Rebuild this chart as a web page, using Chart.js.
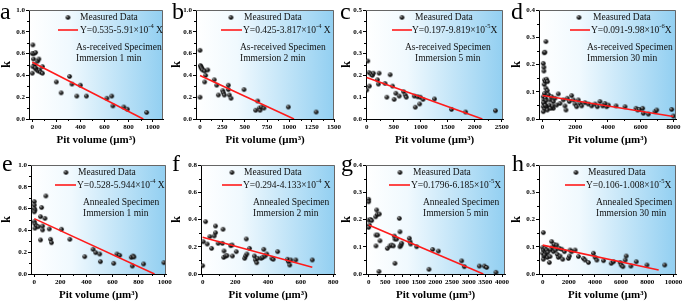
<!DOCTYPE html>
<html>
<head>
<meta charset="utf-8">
<script src="https://cdn.jsdelivr.net/npm/chart.js@4.4.1/dist/chart.umd.min.js"></script>
<style>
  body { margin: 0; background: #fff; width: 685px; height: 303px; overflow: hidden; position: relative; }
  canvas { position: absolute; }
</style>
</head>
<body>
<script>
// ---- data ----
const yTicks10 = [0, 0.2, 0.4, 0.6, 0.8, 1.0];
const yTicks08 = [0, 0.2, 0.4, 0.6, 0.8];
const yTicks05 = [0, 0.1, 0.2, 0.3, 0.4, 0.5];
const yTicks04 = [0, 0.1, 0.2, 0.3, 0.4];

const xTicksA = [0, 200, 400, 600, 800, 1000];
const xTicksB = [0, 250, 500, 750, 1000, 1250, 1500];
const xTicksC = [0, 500, 1000, 1500, 2000, 2500];
const xTicksD = [0, 2000, 4000, 6000, 8000];
const xTicksE = [0, 200, 400, 600, 800, 1000];
const xTicksF = [0, 200, 400, 600, 800];
const xTicksG = [0, 500, 1000, 1500, 2000, 2500, 3000, 3500, 4000];
const xTicksH = [0, 2000, 4000, 6000, 8000, 10000];

// measured data [pit volume, k]
const ptsA = [[5,0.68],[0,0.60],[15,0.60],[28,0.61],[10,0.55],[45,0.53],[55,0.55],[20,0.50],[5,0.48],[30,0.46],[40,0.45],[50,0.44],[60,0.45],[70,0.43],[85,0.42],[0,0.42],[85,0.48],[25,0.47],
  [200,0.34],[240,0.24],[310,0.39],[330,0.32],[370,0.21],[400,0.31],[450,0.21],[620,0.19],[660,0.21],[670,0.12],[760,0.11],[790,0.09],[950,0.06]];
const ptsB = [[0,0.63],[5,0.49],[10,0.48],[15,0.47],[22,0.46],[30,0.45],[0,0.20],[52,0.44],[86,0.45],[63,0.40],[52,0.34],[160,0.36],[187,0.31],[205,0.22],[254,0.26],[261,0.24],[272,0.22],
  [317,0.31],[317,0.27],[328,0.22],[347,0.19],[493,0.27],[623,0.08],[645,0.165],[664,0.10],[672,0.08],[690,0.11],[716,0.10],[989,0.11],[1300,0.064]];
const ptsC = [[20,0.266],[0,0.133],[50,0.151],[43,0.213],[80,0.206],[105,0.20],[124,0.21],[200,0.18],[217,0.16],[230,0.21],[340,0.163],[435,0.203],[373,0.10],[478,0.151],[509,0.09],
  [540,0.118],[602,0.105],[683,0.125],[714,0.11],[733,0.10],[882,0.105],[900,0.054],[944,0.102],[981,0.069],[994,0.10],[1043,0.09],[1255,0.092],[1571,0.044],[1832,0.032],[2385,0.038]];
const ptsD = [[204,0.284],[100,0.243],[140,0.245],[40,0.204],[80,0.19],[80,0.176],[120,0.143],[180,0.138],[245,0.146],[306,0.137],[100,0.127],[204,0.113],[285,0.104],[120,0.094],[40,0.082],
  [347,0.09],[80,0.07],[180,0.076],[100,0.057],[40,0.045],[140,0.037],[245,0.045],[204,0.067],[449,0.07],[551,0.082],[653,0.064],[755,0.076],[653,0.039],[959,0.092],[1061,0.057],
  [857,0.051],[1265,0.07],[1367,0.048],[1429,0.033],[1510,0.076],[1633,0.064],[1776,0.086],[1878,0.07],[1980,0.055],[2082,0.045],[2184,0.07],[2286,0.057],[2388,0.048],[2592,0.06],
  [2796,0.055],[3000,0.048],[3204,0.055],[3347,0.045],[3510,0.064],[3673,0.048],[3816,0.057],[3918,0.045],[4020,0.051],[4490,0.048],[5041,0.045],[5714,0.039],[5816,0.033],[5918,0.035],
  [6122,0.039],[6163,0.021],[6469,0.018],[6878,0.027],[6980,0.033],[7898,0.035],[8000,0.011],[40,0.027],[285,0.033],[408,0.051],[490,0.039],[612,0.048],[60,0.06],[160,0.05]];
const ptsE = [[0,0.664],[0,0.633],[0,0.60],[5,0.587],[0,0.57],[0,0.48],[5,0.46],[18,0.44],[5,0.42],[31,0.434],[48,0.526],[64,0.44],[56,0.61],[89,0.716],[82,0.51],[64,0.404],[48,0.312],
  [115,0.413],[125,0.318],[132,0.287],[209,0.41],[273,0.318],[387,0.159],[451,0.226],[471,0.196],[502,0.183],[507,0.113],[609,0.098],[634,0.183],[655,0.171],[744,0.153],[752,0.073],
  [757,0.165],[764,0.156],[838,0.092],[994,0.104]];
const ptsF = [[0,0.061],[4,0.237],[18,0.384],[28,0.22],[44,0.274],[55,0.188],[71,0.279],[79,0.303],[79,0.352],[95,0.225],[121,0.225],[125,0.328],[131,0.169],[129,0.122],[141,0.132],
  [149,0.135],[172,0.208],[180,0.213],[182,0.132],[206,0.164],[257,0.115],[263,0.132],[267,0.257],[271,0.147],[287,0.188],[317,0.132],[323,0.103],[331,0.083],[337,0.115],[358,0.115],
  [368,0.122],[374,0.181],[382,0.132],[392,0.147],[424,0.115],[432,0.108],[459,0.164],[519,0.108],[525,0.091],[533,0.066],[539,0.103],[570,0.103],[671,0.103]];
const ptsG = [[0,0.274],[0,0.265],[0,0.198],[20,0.18],[0,0.171],[60,0.2],[90,0.196],[210,0.21],[240,0.235],[260,0.219],[320,0.22],[220,0.143],[270,0.143],[220,0.103],[340,0.122],
  [310,0.009],[560,0.094],[640,0.103],[690,0.106],[740,0.103],[770,0.139],[790,0.128],[840,0.128],[790,0.039],[920,0.204],[940,0.155],[940,0.1],[970,0.106],[990,0.113],[1220,0.131],
  [1240,0.119],[1260,0.11],[1440,0.1],[1810,0.017],[1920,0.09],[2090,0.084],[2790,0.048],[2870,0.027],[3320,0.029],[3470,0.029],[3540,0.024],[3820,0.006]];
const ptsH = [[50,0.152],[0,0.097],[50,0.088],[180,0.094],[0,0.076],[100,0.064],[50,0.054],[256,0.076],[307,0.088],[358,0.061],[512,0.042],[563,0.064],[690,0.119],[767,0.1],[818,0.082],
  [895,0.108],[997,0.088],[1074,0.106],[1125,0.072],[1202,0.061],[1279,0.094],[1330,0.066],[1458,0.091],[1535,0.054],[1662,0.082],[1969,0.057],[2046,0.066],[2097,0.088],[2225,0.082],
  [2481,0.088],[2737,0.064],[3120,0.057],[3248,0.051],[3504,0.042],[3887,0.076],[4015,0.061],[4143,0.051],[4655,0.049],[5243,0.039],[5422,0.045],[5934,0.042],[6010,0.033],[6138,0.027],
  [6317,0.051],[6394,0.066],[6752,0.029],[7161,0.045],[7980,0.033],[9335,0.033],[150,0.07],[400,0.08],[600,0.09]];

// fitted lines, end points as drawn
const lineA = [[0, 0.52], [922, 0]];
const lineB = [[0, 0.40], [1052, 0]];
const lineC = [[0, 0.19], [2143, 0]];
const lineD = [[0, 0.086], [8000, 0.009]];
const lineE = [[0, 0.508], [922, 0]];
const lineF = [[0, 0.269], [671, 0.049]];
const lineG = [[0, 0.18], [3440, 0]];
const lineH = [[0, 0.106], [8875, 0.015]];

// equation text: [before superscript, superscript, after]
const eqA = ['Y=0.535-5.91×10', '-4', ' X'];
const eqB = ['Y=0.425-3.817×10', '-4', ' X'];
const eqC = ['Y=0.197-9.819×10', '-5', 'X'];
const eqD = ['Y=0.091-9.98×10', '-6', 'X'];
const eqE = ['Y=0.528-5.944×10', '-4', ' X'];
const eqF = ['Y=0.294-4.133×10', '-4', ' X'];
const eqG = ['Y=0.1796-6.185×10', '-5', 'X'];
const eqH = ['Y=0.106-1.008×10', '-5', 'X'];

const SERIF = '"Liberation Serif", "Times New Roman", serif';
const EXTRA = 12; // canvases reach a bit past their panel so edge tick labels are not clipped

// sphere-looking marker
function makeDot(r) {
  const c = document.createElement('canvas');
  const s = Math.ceil(r * 2) + 2;
  c.width = c.height = s;
  const g = c.getContext('2d');
  const m = s / 2;
  const grad = g.createRadialGradient(m - r * 0.35, m - r * 0.35, 0.2, m, m, r);
  grad.addColorStop(0, '#a0a0a0');
  grad.addColorStop(0.45, '#262626');
  grad.addColorStop(1, '#000');
  g.fillStyle = grad;
  g.beginPath(); g.arc(m, m, r, 0, Math.PI * 2); g.fill();
  return c;
}
const dot = makeDot(2.3);

// layout of each panel (canvas box + plot area offsets)
const panels = [
  { L: 'a', box: [0, 0, 170, 150], yW: 29, top: 10, right: 7, xH: 31, tb: 3, xr: [-27, 1086], xt: xTicksA, yr: [0, 1], yt: yTicks10,
    pts: ptsA, line: lineA, eq: eqA, spec: 'As-received Specimen', imm: 'Immersion 1 min', leg: [39, 51, 29, 49, 51, 47, 47], lp: [0, 19] },
  { L: 'b', box: [170, 0, 170, 150], yW: 26, top: 10, right: 6, xH: 31, tb: 3, xr: [-45, 1500], xt: xTicksB, yr: [0, 1], yt: yTicks10,
    pts: ptsB, line: lineB, eq: eqB, spec: 'As-received Specimen', imm: 'Immersion 2 min', leg: [35, 48, 25, 46, 47, 44, 44], lp: [2, 19] },
  { L: 'c', box: [340, 0, 170, 150], yW: 26, top: 10, right: 7, xH: 31, tb: 3, xr: [-13, 2525], xt: xTicksC, yr: [0, 0.5], yt: yTicks05,
    pts: ptsC, line: lineC, eq: eqC, spec: 'As-received Specimen', imm: 'Immersion 5 min', leg: [36, 49, 26, 46, 46, 39, 49], lp: [0, 19] },
  { L: 'd', box: [510, 0, 175, 150], yW: 29, top: 10, right: 9, xH: 31, tb: 3, xr: [-220, 8160], xt: xTicksD, yr: [0, 0.4], yt: yTicks04,
    pts: ptsD, line: lineD, eq: eqD, spec: 'As-received Specimen', imm: 'Immersion 30 min', leg: [40, 54, 31, 51, 52, 48, 48], lp: [1, 19] },
  { L: 'e', box: [0, 150, 170, 153], yW: 31, top: 15, right: 4, xH: 29, tb: 1, xr: [-25, 1010], xt: xTicksE, yr: [0, 1], yt: yTicks10,
    pts: ptsE, line: lineE, eq: eqE, spec: 'Annealed Specimen', imm: 'Immersion 1 min', leg: [35, 47, 24, 45, 46, 52, 52], lp: [2, 21] },
  { L: 'f', box: [170, 150, 170, 153], yW: 31, top: 15, right: 5, xH: 29, tb: 1, xr: [-10, 810], xt: xTicksF, yr: [0, 0.8], yt: yTicks08,
    pts: ptsF, line: lineF, eq: eqF, spec: 'Annealed Specimen', imm: 'Immersion 2 min', leg: [31, 43, 21, 41, 42, 52, 52], lp: [2, 21] },
  { L: 'g', box: [340, 150, 170, 153], yW: 26, top: 15, right: 5, xH: 29, tb: 1, xr: [-80, 4090], xt: xTicksG, yr: [0, 0.4], yt: yTicks04,
    pts: ptsG, line: lineG, eq: eqG, spec: 'Annealed Specimen', imm: 'Immersion 5 min', leg: [34, 47, 23, 44, 45, 57, 57], lp: [1, 21] },
  { L: 'h', box: [510, 150, 175, 153], yW: 29, top: 15, right: 9, xH: 29, tb: 1, xr: [-280, 10200], xt: xTicksH, yr: [0, 0.4], yt: yTicks04,
    pts: ptsH, line: lineH, eq: eqH, spec: 'Annealed Specimen', imm: 'Immersion 30 min', leg: [37, 49, 26, 46, 47, 57, 57], lp: [2, 21] }
];

// background gradient, frame, minor ticks, in-plot legend and labels
function decor(p) {
  return {
    id: 'decor' + p.L,
    beforeDraw(chart) {
      const { ctx, chartArea: a } = chart;
      const g = ctx.createLinearGradient(a.left, 0, a.right, 0);
      g.addColorStop(0, '#ffffff');
      g.addColorStop(0.3, '#f0f9fe');
      g.addColorStop(1, '#92cff1');
      ctx.save();
      ctx.fillStyle = g;
      ctx.fillRect(a.left, a.top, a.right - a.left, a.bottom - a.top);
      ctx.restore();
    },
    afterDraw(chart) {
      const { ctx, chartArea: a, scales } = chart;
      ctx.save();
      // top/right frame
      ctx.strokeStyle = '#666';
      ctx.lineWidth = 1;
      ctx.beginPath();
      ctx.moveTo(a.left, a.top + 0.5); ctx.lineTo(a.right - 0.5, a.top + 0.5); ctx.lineTo(a.right - 0.5, a.bottom);
      ctx.stroke();
      // minor ticks
      ctx.strokeStyle = '#000';
      ctx.beginPath();
      for (let i = 0; i < p.xt.length - 1; i++) {
        const x = Math.round(scales.x.getPixelForValue((p.xt[i] + p.xt[i + 1]) / 2)) + 0.5;
        ctx.moveTo(x, a.bottom); ctx.lineTo(x, a.bottom + 2);
      }
      for (let i = 0; i < p.yt.length - 1; i++) {
        const y = Math.round(scales.y.getPixelForValue((p.yt[i] + p.yt[i + 1]) / 2)) + 0.5;
        ctx.moveTo(a.left, y); ctx.lineTo(a.left - 2, y);
      }
      ctx.stroke();

      const [dx, tx, l0, l1, ex, ax1, ax2] = p.leg;
      const L = a.left, T = a.top;
      ctx.fillStyle = '#111';
      ctx.textBaseline = 'middle';
      ctx.font = '9.5px ' + SERIF;
      // legend: points
      ctx.drawImage(dot, L + dx - dot.width / 2, T + 7.5 - dot.height / 2);
      ctx.fillText('Measured Data', L + tx, T + 7.5);
      // legend: fit line
      ctx.strokeStyle = '#ff1a1a';
      ctx.lineWidth = 1.6;
      ctx.beginPath(); ctx.moveTo(L + l0, T + 20); ctx.lineTo(L + l1, T + 20); ctx.stroke();
      let x = L + ex;
      ctx.fillText(p.eq[0], x, T + 20);
      x += ctx.measureText(p.eq[0]).width;
      ctx.font = '6.5px ' + SERIF;
      ctx.fillText(p.eq[1], x, T + 16.5);
      x += ctx.measureText(p.eq[1]).width;
      ctx.font = '9.5px ' + SERIF;
      ctx.fillText(p.eq[2], x, T + 20);
      // specimen labels
      ctx.fillText(p.spec, L + ax1, T + 37);
      ctx.fillText(p.imm, L + ax2, T + 48.5);
      // panel letter
      ctx.font = '24px ' + SERIF;
      ctx.textBaseline = 'alphabetic';
      ctx.fillStyle = '#000';
      ctx.fillText(p.L, p.lp[0], p.lp[1]);
      ctx.restore();
    }
  };
}

const tickFont = { family: SERIF, size: 7, weight: 'bold' };

panels.forEach(p => {
  const cv = document.createElement('canvas');
  cv.width = p.box[2] + EXTRA;
  cv.height = p.box[3];
  cv.style.left = p.box[0] + 'px';
  cv.style.top = p.box[1] + 'px';
  document.body.appendChild(cv);

  new Chart(cv.getContext('2d'), {
    type: 'scatter',
    data: {
      datasets: [
        {
          data: p.pts.map(([x, y]) => ({ x, y })),
          pointStyle: dot,
          pointRadius: 2.3,
          order: 1
        },
        {
          type: 'line',
          data: p.line.map(([x, y]) => ({ x, y })),
          borderColor: '#ff1a1a',
          borderWidth: 1.6,
          pointRadius: 0,
          showLine: true,
          fill: false,
          order: 0
        }
      ]
    },
    options: {
      responsive: false,
      animation: false,
      devicePixelRatio: 1,
      layout: { padding: { left: 0, top: p.top, right: p.right + EXTRA, bottom: 0 } },
      plugins: { legend: { display: false }, tooltip: { enabled: false } },
      scales: {
        x: {
          type: 'linear',
          min: p.xr[0],
          max: p.xr[1],
          afterBuildTicks: s => { s.ticks = p.xt.map(v => ({ value: v })); },
          afterFit: s => { s.height = p.xH; s.paddingLeft = s.paddingRight = s.paddingTop = s.paddingBottom = 0; },
          grid: { drawOnChartArea: false, tickLength: 3, color: '#000', tickColor: '#000' },
          border: { color: '#000', width: 1 },
          ticks: { font: tickFont, color: '#000', padding: 1, maxRotation: 0, autoSkip: false, callback: v => String(v) },
          title: { display: true, text: 'Pit volume (μm³)', color: '#000', font: { family: SERIF, size: 11, weight: 'bold' }, padding: { top: 0, bottom: p.tb } }
        },
        y: {
          type: 'linear',
          min: p.yr[0],
          max: p.yr[1],
          afterBuildTicks: s => { s.ticks = p.yt.map(v => ({ value: v })); },
          afterFit: s => { s.width = p.yW; s.paddingLeft = s.paddingRight = s.paddingTop = s.paddingBottom = 0; },
          grid: { drawOnChartArea: false, tickLength: 3, color: '#000', tickColor: '#000' },
          border: { color: '#000', width: 1 },
          ticks: { font: tickFont, color: '#000', padding: 1, autoSkip: false, callback: v => v.toFixed(1) },
          title: { display: true, text: 'k', color: '#000', font: { family: SERIF, size: 12, weight: 'bold' }, padding: { top: 0, bottom: 0 } }
        }
      }
    },
    plugins: [decor(p)]
  });
});
</script>
</body>
</html>
